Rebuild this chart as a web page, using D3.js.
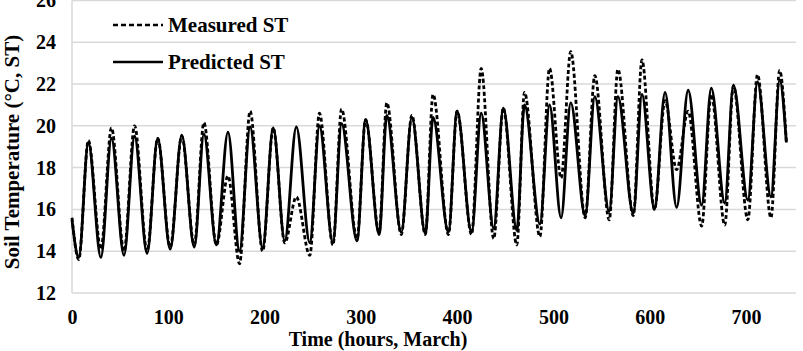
<!DOCTYPE html>
<html>
<head>
<meta charset="utf-8">
<script src="https://cdn.jsdelivr.net/npm/d3@7"></script>
<style>
  html, body { margin: 0; padding: 0; background: #fff; }
  svg { display: block; }
  text { font-family: "Liberation Serif", "Times New Roman", serif; font-weight: bold; fill: #000; }
</style>
</head>
<body>
<svg id="chart" width="803" height="351"></svg>
<script>
// ---- data ----
// time (hours) of each turning point: start, then alternating daily trough / peak, then end
const hours = [0,
  7,17, 30,41, 54,65, 78,89, 102,114, 127,137, 150,162, 174,185, 198,209, 221,233,
  247,257, 271,280, 296,305, 319,327, 342,353, 367,375, 391,400, 415,425, 438,448,
  462,470, 486,496, 508,518, 533,543, 558,567, 583,592, 605,616, 628,640, 654,664,
  678,687, 702,712, 726,735, 742];

const measuredST = [15.6,
  13.6,19.3, 14.1,19.9, 14.0,20.0, 14.0,19.4, 14.2,19.5, 14.3,20.15, 14.3,17.6, 13.4,20.7, 14.0,19.9, 14.4,16.6,
  13.8,20.6, 14.3,20.8, 14.6,20.3, 14.9,21.1, 14.8,20.5, 14.8,21.5, 14.8,20.7, 14.8,22.75, 14.6,20.85,
  14.3,21.6, 14.7,22.75, 17.5,23.55, 15.6,22.4, 15.5,22.7, 15.7,23.15, 16.0,21.2, 17.9,20.7, 15.2,21.5,
  15.25,21.9, 15.5,22.45, 15.6,22.65, 19.2];

const predictedST = [15.5,
  13.7,19.2, 13.7,19.4, 13.8,19.5, 13.9,19.4, 14.1,19.55, 14.2,19.6, 14.3,19.7, 14.0,19.95, 14.15,19.9, 14.5,19.95,
  14.4,20.0, 14.4,20.1, 14.5,20.3, 14.8,20.5, 14.9,20.4, 14.85,20.4, 14.9,20.7, 14.9,20.6, 15.1,20.85,
  15.0,21.0, 15.3,21.0, 15.6,21.1, 15.7,21.4, 15.9,21.4, 15.8,21.5, 16.0,21.6, 16.1,21.7, 16.2,21.8,
  16.3,21.95, 16.45,22.1, 16.6,22.2, 19.2];

const xTicks = [0, 100, 200, 300, 400, 500, 600, 700];
const yTicks = [12, 14, 16, 18, 20, 22, 24, 26];
const seriesNames = ["Measured ST", "Predicted ST"];
const xTitle = "Time (hours, March)";
const yTitle = "Soil Temperature (°C, ST)";

// ---- drawing ----
const svg = d3.select("#chart");
const x = d3.scaleLinear().domain([0, 752]).range([72, 796]);
const y = d3.scaleLinear().domain([12, 26]).range([293, 0.4]);

// gridlines
svg.append("g").selectAll("line").data(yTicks).join("line")
  .attr("x1", x(0)).attr("x2", x(752))
  .attr("y1", d => y(d)).attr("y2", d => y(d))
  .attr("stroke", "#d9d9d9").attr("stroke-width", 1.5);
// left axis line
svg.append("line").attr("x1", x(0)).attr("x2", x(0)).attr("y1", y(26)).attr("y2", y(12))
  .attr("stroke", "#d9d9d9").attr("stroke-width", 1.5);

// y axis labels
const yAxis = d3.axisLeft(y).tickValues(yTicks).tickSize(0).tickPadding(16).tickFormat(d3.format("d"));
const gy = svg.append("g").attr("transform", `translate(${x(0)},0)`).call(yAxis);
gy.select(".domain").remove();
gy.selectAll("text").style("font-size", "20px");

// x axis labels
const xAxis = d3.axisBottom(x).tickValues(xTicks).tickSize(0).tickPadding(17).tickFormat(d3.format("d"));
const gx = svg.append("g").attr("transform", `translate(0,${y(12)})`).call(xAxis);
gx.select(".domain").remove();
gx.selectAll("text").style("font-size", "20px");

// axis titles
svg.append("text").attr("x", 378).attr("y", 346).attr("text-anchor", "middle")
  .style("font-size", "20px").text(xTitle);
svg.append("text").attr("transform", "translate(19,152) rotate(-90)").attr("text-anchor", "middle")
  .style("font-size", "21px").text(yTitle);

// lines
const pts = vals => hours.map((h, i) => [h, vals[i]]);
const line = d3.line().x(d => x(d[0])).y(d => y(d[1])).curve(d3.curveMonotoneX);

svg.append("path").datum(pts(measuredST)).attr("d", line)
  .attr("fill", "none").attr("stroke", "#000").attr("stroke-width", 2.8)
  .attr("stroke-dasharray", "4,2.5");
svg.append("path").datum(pts(predictedST)).attr("d", line)
  .attr("fill", "none").attr("stroke", "#000").attr("stroke-width", 2.8);

// legend
const legend = svg.append("g");
const dashes = ["5,3", null];
const ly = [25, 62];
seriesNames.forEach((name, i) => {
  legend.append("line").attr("x1", 113).attr("x2", 163).attr("y1", ly[i]).attr("y2", ly[i])
    .attr("stroke", "#000").attr("stroke-width", 2.5)
    .attr("stroke-dasharray", dashes[i]);
  legend.append("text").attr("x", 168).attr("y", ly[i]).attr("dy", "0.35em")
    .style("font-size", "21px").text(name);
});
</script>
</body>
</html>
